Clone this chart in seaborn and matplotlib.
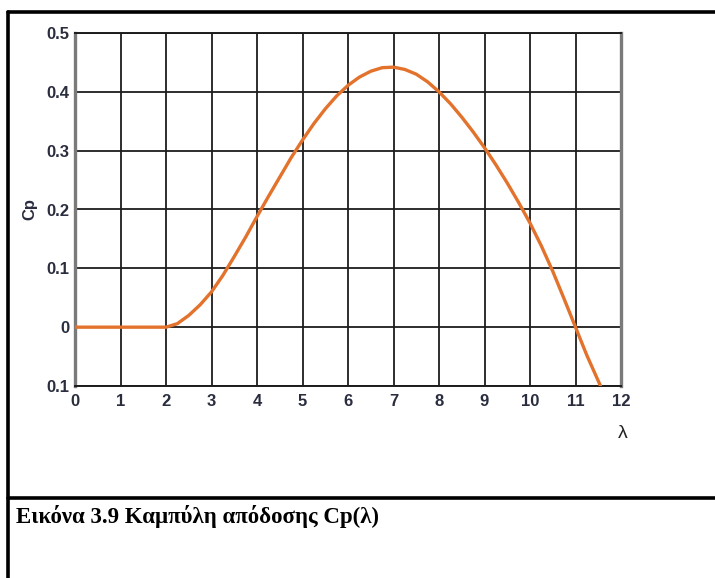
import matplotlib
matplotlib.use("Agg")
import matplotlib.pyplot as plt
import seaborn as sns
import pandas as pd
from matplotlib.lines import Line2D

# ---- data ----
lam = [0, 0.5, 1, 1.5, 2, 2.25, 2.5, 2.75, 3, 3.25, 3.5, 3.75, 4, 4.25, 4.5, 4.75,
       5, 5.25, 5.5, 5.75, 6, 6.25, 6.5, 6.75, 7, 7.25, 7.5, 7.75, 8, 8.25,
       8.5, 8.75, 9, 9.25, 9.5, 9.75, 10, 10.25, 10.5, 10.75, 11, 11.25, 11.55]
cp = [0, 0, 0, 0, 0, 0.006, 0.02, 0.038, 0.06, 0.088, 0.12, 0.153, 0.188, 0.222, 0.255, 0.288,
      0.318, 0.346, 0.371, 0.393, 0.411, 0.425, 0.435, 0.441, 0.442, 0.438, 0.430, 0.417, 0.400, 0.380,
      0.357, 0.332, 0.305, 0.276, 0.245, 0.212, 0.177, 0.138, 0.095, 0.048, 0.0, -0.048, -0.1]
x_ticks = list(range(0, 13))
y_ticks = [-0.1, 0, 0.1, 0.2, 0.3, 0.4, 0.5]
y_tick_labels = ["0.1", "0", "0.1", "0.2", "0.3", "0.4", "0.5"]
x_label = "λ"
y_label = "Cp"
caption = "Εικόνα 3.9 Καμπύλη απόδοσης Cp(λ)"

sns.set_style("white")
plt.rcParams['font.family'] = ['Liberation Sans', 'DejaVu Sans']

W, H = 715, 578
fig = plt.figure(figsize=(W / 100, H / 100), dpi=100)
fig.patch.set_facecolor("white")

# axes placement in pixels
x0, x1 = 75, 621
y_top, y_bot = 33, 386
ax = fig.add_axes([x0 / W, 1 - y_bot / H, (x1 - x0) / W, (y_bot - y_top) / H])

df = pd.DataFrame({"lam": lam, "cp": cp})
sns.lineplot(data=df, x="lam", y="cp", ax=ax, color="#E2722C", linewidth=2.4,
             zorder=5, sort=False)

ax.set_xlim(0, 12)
ax.set_ylim(-0.1, 0.5)
ax.set_xticks(x_ticks)
ax.set_yticks(y_ticks)
ax.set_yticklabels(y_tick_labels)
ax.set_xticklabels([str(t) for t in x_ticks])
ax.grid(True, color="#1c1c1c", linewidth=1.3)
ax.set_axisbelow(True)

tick_color = "#2a2d3e"
ax.tick_params(axis="both", direction="out", length=3, width=1.2, color="#222222",
               labelsize=12, labelcolor=tick_color, pad=1)
ax.tick_params(axis="x", pad=3)
for lbl in ax.get_xticklabels() + ax.get_yticklabels():
    lbl.set_fontweight("semibold")

for side in ("left", "right"):
    ax.spines[side].set_color("#7a7a7a")
    ax.spines[side].set_linewidth(2.4)
for side in ("top", "bottom"):
    ax.spines[side].set_color("#1c1c1c")
    ax.spines[side].set_linewidth(1.4)

ax.set_xlabel("")
ax.set_ylabel("")
fig.text(623 / W, 1 - 433 / H, x_label, fontsize=14, color="#222222",
         ha="center", va="center")
fig.text(30 / W, 1 - 209 / H, y_label, fontsize=12, color="#2a2d3e",
         ha="center", va="center", rotation=90, fontweight="semibold")

# frame lines
def fl(xs, ys, lw=2.6):
    fig.add_artist(Line2D([x / W for x in xs], [1 - y / H for y in ys],
                          color="black", linewidth=lw, transform=fig.transFigure))

fl([8, 715], [12, 12])
fl([8, 8], [12, 578])
fl([8, 715], [498, 498])

fig.text(16 / W, 1 - 517 / H, caption, fontsize=16.5, fontweight="bold",
         family=["Liberation Serif", "DejaVu Serif"], color="black",
         ha="left", va="center")

fig.savefig("out.png", dpi=100, facecolor="white")
